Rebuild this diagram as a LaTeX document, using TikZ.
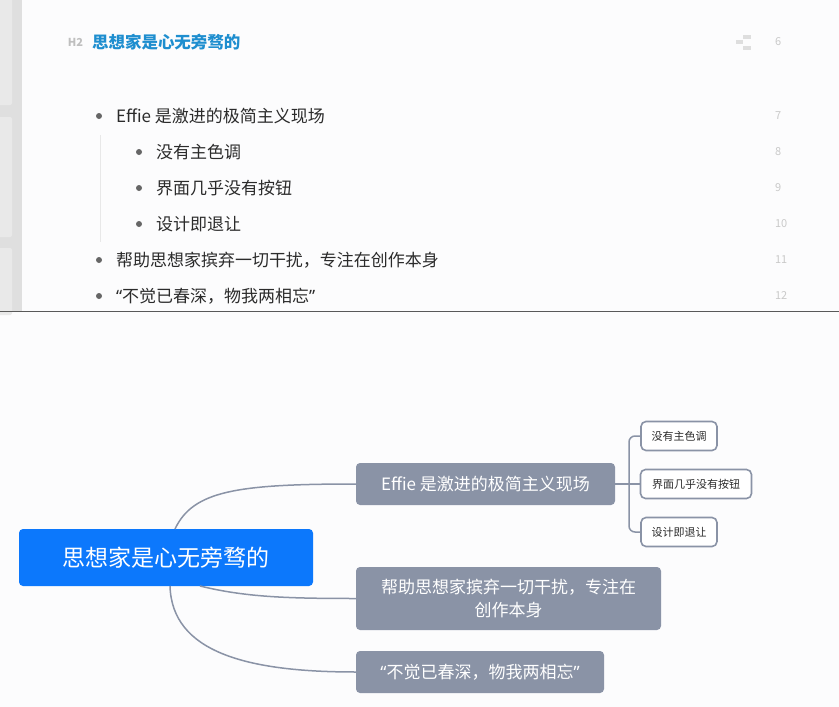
\documentclass[tikz,border=0pt]{standalone}
\usepackage{fontspec}
\setmainfont{Noto Sans CJK SC}
\newfontfamily\quotefont{Noto Sans}
\usepackage{tikz}
\usetikzlibrary{positioning}
\usetikzlibrary{calc}

\definecolor{pagebg}{HTML}{FCFCFD}
\definecolor{stripdark}{HTML}{DFDFDF}
\definecolor{striplight}{HTML}{E9E9E9}
\definecolor{titleblue}{HTML}{1E8ECF}
\definecolor{rootblue}{HTML}{0C78FC}
\definecolor{branchgray}{HTML}{8A93A6}
\definecolor{bodytext}{HTML}{2B2B2B}
\definecolor{numgray}{HTML}{C9C9C9}

% Quote marks set in a proportional font
\newcommand{\lquo}{{\quotefont “}}
\newcommand{\rquo}{{\quotefont ”}}

\begin{document}
\begin{tikzpicture}[x=1pt, y=-1pt,
    every node/.style={inner sep=0pt, outer sep=0pt},
    item/.style={anchor=west, text=bodytext, font=\fontsize{17}{20}\selectfont},
    dot/.style={circle, fill=black!60, minimum size=6pt},
    lineno/.style={anchor=west, text=numgray, font=\fontsize{11}{13}\selectfont},
    root/.style={fill=rootblue, rounded corners=4pt, text=white, font=\fontsize{23}{27}\selectfont, minimum height=57pt},
    branch/.style={fill=branchgray, rounded corners=4pt, text=white, align=center, font=\fontsize{17}{23}\selectfont, minimum height=42pt},
    leaf/.style={draw=branchgray, line width=1.6pt, fill=white, rounded corners=5pt, text=bodytext, font=\fontsize{11}{13}\selectfont, minimum height=29pt},
    link/.style={draw=branchgray, line width=1.5pt}]

        % Fix the page size
        \useasboundingbox (0,0) rectangle (839,707);
        \fill[pagebg] (0,0) rectangle (839,707);

        % Draw the side strip of the editor
        \fill[stripdark] (0,0) rectangle (22,311);
        \fill[striplight, rounded corners=2pt] (-4,-4) rectangle (12,105);
        \fill[striplight, rounded corners=2pt] (-4,117) rectangle (12,237);
        \fill[striplight, rounded corners=2pt] (-4,248) rectangle (12,315);
        \draw[black!65, line width=1pt] (0,311) -- (839,311);

        % Draw the heading
        \node[anchor=east, text=black!25, font=\fontsize{11}{13}\selectfont\bfseries] (h2) at (83,42) {H2};
        \node[anchor=west, text=titleblue, font=\fontsize{16.5}{20}\selectfont\bfseries] (title) at (92,42) {思想家是心无旁骛的};
        \fill[black!13] (743,35) rectangle (751,39);
        \fill[black!13] (736,40) rectangle (743,44);
        \fill[black!13] (743,46) rectangle (751,50);

        % Draw the line numbers
        \foreach \n/\y in {6/42, 7/116, 8/152, 9/188, 10/224, 11/260, 12/296}
        {
          \node[lineno] (n\n) at (775,\y) {\n};
        }

        % Draw the outline items
        \draw[black!9, line width=1pt] (100,135) -- (100,242);
        \foreach \y in {116, 260, 296}
          \node[dot] at (99,\y) {};
        \foreach \y in {152, 188, 224}
          \node[dot] at (139,\y) {};
        \node[item] (o1) at (116,116) {Effie 是激进的极简主义现场};
        \node[item] (o2) at (156,152) {没有主色调};
        \node[item] (o3) at (156,188) {界面几乎没有按钮};
        \node[item] (o4) at (156,224) {设计即退让};
        \node[item] (o5) at (116,260) {帮助思想家摈弃一切干扰，专注在创作本身};
        \node[item] (o6) at (116,296) {\lquo 不觉已春深，物我两相忘\rquo};

        % Draw the mind map nodes
        \node[root, minimum width=294pt] (root) at (166,557.5) {思想家是心无旁骛的};
        \node[branch, minimum width=259pt] (effie) at (485.5,484) {Effie 是激进的极简主义现场};
        \node[branch, minimum width=305pt, minimum height=63pt] (focus) at (508.5,598.5) {帮助思想家摈弃一切干扰，专注在\\创作本身};
        \node[branch, minimum width=248pt] (poem) at (480,672) {\lquo 不觉已春深，物我两相忘\rquo};

        \node[leaf, minimum width=76pt] (nocolor) at (679,436) {没有主色调};
        \node[leaf, minimum width=111pt] (nobutton) at (696,484) {界面几乎没有按钮};
        \node[leaf, minimum width=76pt] (retreat) at (679,532) {设计即退让};

        % Connect the root to the branches
        \draw[link] ([xshift=9pt]root.north) .. controls +(18,-38) and +(-120,0) .. (effie.west);
        \draw[link] ([xshift=34pt]root.south) .. controls +(45,11) and +(-70,0) .. (focus.west);
        \draw[link] ([xshift=4pt]root.south) .. controls +(2,66) and +(-110,0) .. (poem.west);

        % Connect the first branch to its leaves
        \coordinate (fork) at ([xshift=14pt]effie.east);
        \draw[link] (effie.east) -- (nobutton.west);
        \draw[link, rounded corners=6pt] (nocolor.west) -| (fork) |- (retreat.west);
      \end{tikzpicture}
\end{document}
